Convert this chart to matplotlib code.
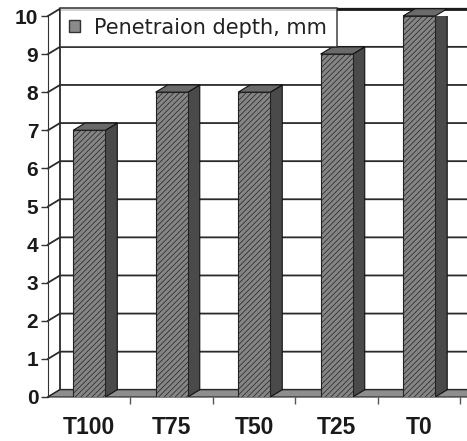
from matplotlib import pyplot as plt
import matplotlib.patches as mpatches
from matplotlib.patches import Polygon

categories = ['T100', 'T75', 'T50', 'T25', 'T0']
depth = [7, 8, 8, 9, 10]
yticks = [0, 1, 2, 3, 4, 5, 6, 7, 8, 9, 10]
legend_label = 'Penetraion depth, mm'

plt.rcParams['hatch.color'] = '#909090'
plt.rcParams['hatch.linewidth'] = 0.5

fig = plt.figure(figsize=(4.67, 4.41), dpi=100)
ax = fig.add_axes([48 / 467, 44 / 441, 419 / 467, 381 / 441])
x0, x1 = -0.5, 4.58
ax.set_xlim(x0, x1)
ax.set_ylim(0, 10)

# depth offset of the 3d look
dx, dy = 0.145, 0.19
w = 0.39

# back wall gridlines + left wall
for v in yticks:
    ax.plot([x0, x0 + dx, x1 + 1], [v, v + dy, v + dy], color='#2a2a2a', lw=1.3,
            clip_on=False, zorder=1)
ax.plot([x0 + dx, x0 + dx], [dy, 10 + dy], color='#2a2a2a', lw=1.3, clip_on=False, zorder=1)
ax.plot([x0 + dx, x1 + 1], [10 + dy, 10 + dy], color='#1a1a1a', lw=2, clip_on=False, zorder=1)

# floor
floor = Polygon([(x0, 0), (x1 + 1, 0), (x1 + 1 + dx, dy), (x0 + dx, dy)],
                closed=True, facecolor='#8e8e8e', edgecolor='#222222', lw=0.8,
                clip_on=False, zorder=2)
ax.add_patch(floor)

# bars
for i, v in enumerate(depth):
    l, r = i - w / 2, i + w / 2
    side = Polygon([(r, 0), (r + dx, dy), (r + dx, v + dy), (r, v)], closed=True,
                   facecolor='#4a4a4a', edgecolor='#111111', lw=0.8, zorder=3)
    top = Polygon([(l, v), (l + dx, v + dy), (r + dx, v + dy), (r, v)], closed=True,
                  facecolor='#6a6a6a', edgecolor='#111111', lw=0.8, zorder=3, clip_on=False)
    ax.add_patch(side)
    ax.add_patch(top)
ax.bar(range(len(depth)), depth, width=w, color='#858585', edgecolor='#222222',
       linewidth=0.8, hatch='//////', zorder=4)

# axes
for s in ['top', 'right']:
    ax.spines[s].set_visible(False)
ax.spines['left'].set_color('#333333')
ax.spines['bottom'].set_visible(False)
ax.set_yticks(yticks)
ax.set_yticklabels([str(t) for t in yticks], fontsize=15, fontweight='bold',
                   family='Liberation Sans', color='#1a1a1a')
ax.tick_params(axis='y', length=5, width=1, pad=2, color='#333333')
ax.set_xticks([0.5, 1.5, 2.5, 3.5, 4.5])
ax.set_xticklabels([])
ax.set_xticks(range(len(categories)), minor=True)
ax.set_xticklabels(categories, minor=True, fontsize=16.5, fontweight='bold',
                   family='Liberation Sans', color='#1a1a1a')
ax.tick_params(axis='x', which='major', length=5, width=1, color='#555555')
ax.tick_params(axis='x', which='minor', length=0, pad=14)

patch = mpatches.Patch(facecolor='#8a8a8a', edgecolor='#333333', label=legend_label)
leg = ax.legend(handles=[patch], loc='upper left', bbox_to_anchor=(12 / 419, 1.02),
                frameon=True, fancybox=False, borderaxespad=0, borderpad=0.45,
                handlelength=0.5, handleheight=0.5, handletextpad=0.7,
                prop={'family': 'DejaVu Sans', 'size': 15})
leg.get_frame().set_edgecolor('#222222')
leg.get_frame().set_linewidth(1.2)
leg.set_zorder(6)
for t in leg.get_texts():
    t.set_color('#222222')

plt.savefig('out.png', dpi=100)
